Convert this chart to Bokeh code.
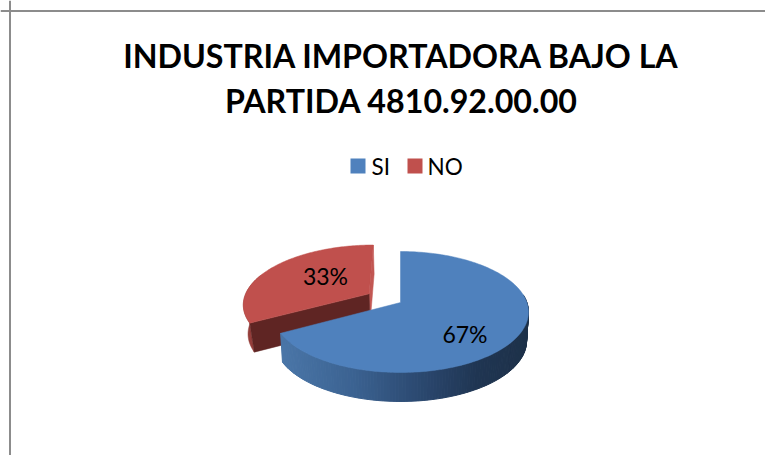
import numpy as np
from bokeh.plotting import figure
from bokeh.models import Range1d, Span
from bokeh.core.properties import value
from bokeh.embed import file_html
from bokeh.resources import INLINE

title_lines = ["INDUSTRIA IMPORTADORA BAJO LA", "PARTIDA 4810.92.00.00"]
categories = ["SI", "NO"]
values = [67, 33]
labels = ["67%", "33%"]
colors = ["#4f81bd", "#c0504d"]

W, H = 765, 455
p = figure(width=W, height=H, output_backend="svg", toolbar_location=None,
           x_range=Range1d(0, W), y_range=Range1d(H, 0),
           min_border=0, outline_line_color=None)
p.xaxis.visible = False
p.yaxis.visible = False
p.grid.visible = False
p.background_fill_color = "white"
p.border_fill_color = "white"

# pie projection
CX, CY, RX, RY, K, DEPTH = 400.0, 302.0, 126.4, 59.0, 0.157, 29.0
EXPLODE = 0.295


def project(u, v, drop=0.0, shrink=1.0):
    s = 1 / (1 + K * np.asarray(v, dtype=float))
    return CX + RX * np.asarray(u) * s * shrink, CY - RY * np.asarray(v) * s + drop


frac = np.array(values, dtype=float) / sum(values)
end_blue = frac[0] * 2 * np.pi
th_blue = np.linspace(0, end_blue, 200)
th_red = np.linspace(end_blue, 2 * np.pi, 120)
mid_red = (end_blue + 2 * np.pi) / 2
ex_u, ex_v = EXPLODE * np.sin(mid_red), EXPLODE * np.cos(mid_red)


def lerp_hex(stops, t):
    xs = [s[0] for s in stops]
    rgb = [np.interp(t, xs, [int(s[1][i:i + 2], 16) for s in stops]) for i in (1, 3, 5)]
    return "#%02x%02x%02x" % tuple(int(round(c)) for c in rgb)


# red slice: walls, then top face
ru, rv = np.sin(th_red) + ex_u, np.cos(th_red) + ex_v
rx, ry = project(ru, rv)
rxb, ryb = project(ru, rv, DEPTH, 0.97)
ax, ay = project(ex_u, ex_v)
axb, ayb = project(ex_u, ex_v, DEPTH, 0.97)
p.patch([rx[-1], ax, axb, rxb[-1]], [ry[-1], ay, ayb, ryb[-1]], color="#c25753", line_width=0.5)
front = np.cos(th_red) < 0.35
p.patch(np.r_[rx[front], rxb[front][::-1]], np.r_[ry[front], ryb[front][::-1]],
        color="#953e3b", line_width=0.5)
p.patch([ax, rx[0], rxb[0], axb], [ay, ry[0], ryb[0], ayb], color="#5f2523", line_width=0.5)
p.patch(np.r_[ax, rx], np.r_[ay, ry], color=colors[1], line_color=colors[1], line_width=0.5)

# blue slice: gradient rim, then top face
bu, bv = np.sin(th_blue), np.cos(th_blue)
bx, by = project(bu, bv)
bxb, byb = project(bu, bv, DEPTH, 0.985)
stops = [(0.0, "#4a76a8"), (0.3, "#3b6291"), (0.55, "#2c4a72"), (0.8, "#1f3552"), (1.0, "#1d3149")]
xs_q, ys_q, cols = [], [], []
for i in range(len(th_blue) - 1):
    if bv[i] > 0.15:
        continue
    xs_q.append([bx[i], bx[i + 1], bxb[i + 1], bxb[i]])
    ys_q.append([by[i], by[i + 1], byb[i + 1], byb[i]])
    cols.append(lerp_hex(stops, (bx[i] - bx.min()) / (bx.max() - bx.min())))
p.patches(xs_q, ys_q, fill_color=cols, line_color=cols, line_width=1)
p.patch(np.r_[CX, bx], np.r_[CY, by], color=colors[0], line_color=colors[0], line_width=0.5)

# data labels
p.text([464.5, 325], [333.5, 275.5], text=labels, text_font=value("Lato"), text_font_size="23px",
       text_color="black", text_align="center", text_baseline="middle")

# title
p.text([401, 401], [54.5, 100], text=title_lines, text_font=value("Lato"), text_font_size="32.2px",
       text_font_style="bold", text_color="black", text_align="center", text_baseline="middle")

# legend
p.rect([357.5, 414.5], [165.5, 165.5], width=15, height=15, fill_color=colors, line_color=None)
p.text([371, 427], [165.5, 165.5], text=categories, text_font=value("Lato"), text_font_size="22.5px",
       text_color="black", text_align="left", text_baseline="middle")

# chart frame
p.add_layout(Span(location=10.5, dimension="width", line_color="#8c8c8c", line_width=2))
p.add_layout(Span(location=9.5, dimension="height", line_color="#8c8c8c", line_width=2))

open("out.html", "w").write(file_html(p, INLINE))
